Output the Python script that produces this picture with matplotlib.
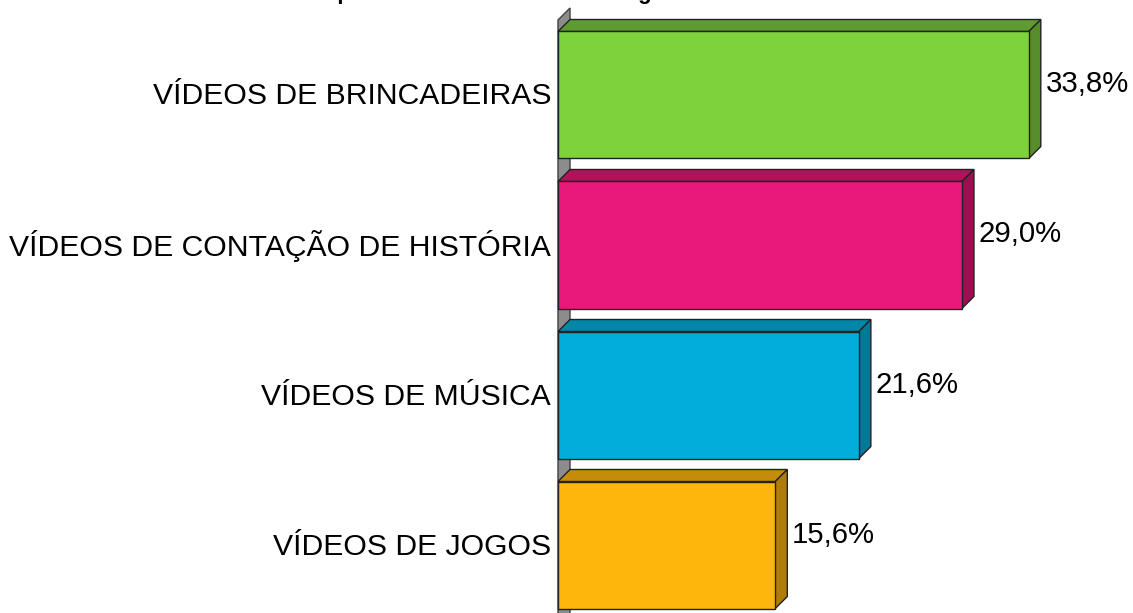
import matplotlib
matplotlib.use('Agg')
import matplotlib.pyplot as plt
from matplotlib.patches import Polygon

plt.rcParams['font.family'] = ['Liberation Sans', 'DejaVu Sans']

# dados
categorias = ['VÍDEOS DE BRINCADEIRAS', 'VÍDEOS DE CONTAÇÃO DE HISTÓRIA',
              'VÍDEOS DE MÚSICA', 'VÍDEOS DE JOGOS']
valores = [33.8, 29.0, 21.6, 15.6]
rotulos = ['33,8%', '29,0%', '21,6%', '15,6%']
cor_frente = ['#7ED23C', '#E8197A', '#02ADDC', '#FDB60C']
cor_topo = ['#5F9B2E', '#AE135C', '#0287A9', '#C48C08']
cor_lado = ['#568E29', '#9A1050', '#047896', '#AE7C07']

fig = plt.figure(figsize=(11.33, 6.13), dpi=100)
ax = fig.add_axes([0, 0, 1, 1])
ax.set_xlim(-40.06, 41.28)
ax.set_ylim(3.4533, -0.6333)
ax.axis('off')

# profundidade 3D (em unidades dos eixos)
dx = 12 / 13.93
dy = -12 / 150
h = 127 / 150

# parede lateral cinza
parede = Polygon([(0, 3.6), (0, -0.5), (dx, -0.5 + dy), (dx, 3.6 + dy)],
                 closed=True, fc='#8C8C8C', ec='#404040', lw=1, zorder=1)
ax.add_patch(parede)

ys = range(len(valores))
ax.barh(ys, valores, height=h, left=0, color=cor_frente, edgecolor='#222222',
        linewidth=1, zorder=3)

for i, v in enumerate(valores):
    y0 = i - h / 2
    y1 = i + h / 2
    topo = Polygon([(0, y0), (dx, y0 + dy), (v + dx, y0 + dy), (v, y0)],
                   closed=True, fc=cor_topo[i], ec='#222222', lw=1, zorder=2)
    lado = Polygon([(v, y0), (v + dx, y0 + dy), (v + dx, y1 + dy), (v, y1)],
                   closed=True, fc=cor_lado[i], ec='#222222', lw=1, zorder=2)
    ax.add_patch(topo)
    ax.add_patch(lado)
    ax.text(v + dx + 0.35, i - 0.07, rotulos[i], fontsize=21.2, ha='left',
            va='center', color='black')
    ax.text(-0.5, i + 0.01, categorias[i], fontsize=21.7, ha='right',
            va='center', color='black')

# título (cortado no topo da imagem, como no original)
fig.text(0.281, 1 + 1 / 613, 'Tipos de vídeos vistos na categoria',
         fontsize=16, fontweight='bold', ha='left', va='baseline')

fig.savefig('out.png', dpi=100)
